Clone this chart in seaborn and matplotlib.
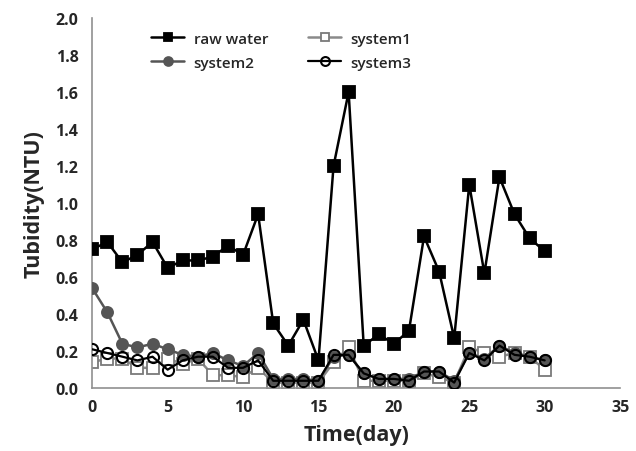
import matplotlib
matplotlib.use("Agg")
import matplotlib.pyplot as plt
import seaborn as sns
import pandas as pd

days = list(range(31))
raw_water = [0.75, 0.79, 0.68, 0.72, 0.79, 0.65, 0.69, 0.69, 0.71, 0.77, 0.72, 0.94, 0.35, 0.23, 0.37, 0.15,
             1.20, 1.60, 0.23, 0.29, 0.24, 0.31, 0.82, 0.63, 0.27, 1.10, 0.62, 1.14, 0.94, 0.81, 0.74]
system1 = [0.14, 0.16, 0.16, 0.11, 0.11, 0.16, 0.13, 0.16, 0.07, 0.07, 0.06, 0.11, 0.03, 0.03, 0.03, 0.03,
           0.14, 0.22, 0.04, 0.04, 0.04, 0.04, 0.08, 0.06, 0.03, 0.22, 0.19, 0.17, 0.19, 0.17, 0.10]
system2 = [0.54, 0.41, 0.24, 0.22, 0.24, 0.21, 0.18, 0.17, 0.19, 0.15, 0.12, 0.19, 0.05, 0.05, 0.05, 0.04,
           0.17, 0.18, 0.08, 0.05, 0.05, 0.05, 0.09, 0.09, 0.04, 0.19, 0.16, 0.23, 0.19, 0.17, 0.15]
system3 = [0.21, 0.19, 0.17, 0.15, 0.17, 0.10, 0.15, 0.17, 0.17, 0.11, 0.11, 0.15, 0.04, 0.04, 0.04, 0.04,
           0.18, 0.18, 0.08, 0.05, 0.05, 0.04, 0.09, 0.09, 0.03, 0.19, 0.15, 0.23, 0.18, 0.17, 0.15]
series_names = ["raw water", "system1", "system2", "system3"]
x_ticks = [0, 5, 10, 15, 20, 25, 30, 35]
y_ticks = [0.0, 0.2, 0.4, 0.6, 0.8, 1.0, 1.2, 1.4, 1.6, 1.8, 2.0]

sns.set_style("white")
plt.rcParams['font.family'] = ['Open Sans', 'DejaVu Sans']

fig = plt.figure(figsize=(6.36, 4.52), dpi=100)
ax = fig.add_axes([0.145, 0.139, 0.830, 0.819])

styles = {
    "raw water": dict(color="black", marker="s", mfc="black", mec="black", ms=8, lw=1.8, zorder=5),
    "system1": dict(color="#8a8a8a", marker="s", mfc="white", mec="#7a7a7a", ms=8, lw=1.8, zorder=2),
    "system2": dict(color="#555555", marker="o", mfc="#555555", mec="#555555", ms=8, lw=1.8, zorder=3),
    "system3": dict(color="black", marker="o", mfc="none", mec="black", ms=8, lw=1.6, mew=1.5, zorder=4),
}
data = {"raw water": raw_water, "system1": system1, "system2": system2, "system3": system3}

for name in series_names:
    df = pd.DataFrame({"day": days, "val": data[name]})
    st = styles[name]
    sns.lineplot(data=df, x="day", y="val", ax=ax, color=st["color"], marker=st["marker"],
                 markerfacecolor=st["mfc"], markeredgecolor=st["mec"], markersize=st["ms"],
                 markeredgewidth=st.get("mew", 1.3), linewidth=st["lw"], zorder=st["zorder"], label=name)

ax.set_xlim(0, 35)
ax.set_ylim(0, 2.0)
ax.set_xticks(x_ticks)
ax.set_yticks(y_ticks)
ax.set_xticklabels([str(t) for t in x_ticks])
ax.set_yticklabels([f"{t:.1f}" for t in y_ticks])
for lab in ax.get_xticklabels() + ax.get_yticklabels():
    lab.set_fontsize(11.5)
    lab.set_fontweight("bold")

ax.set_xlabel("Time(day)", fontsize=15.5, fontweight="bold", labelpad=6)
ax.set_ylabel("Tubidity(NTU)", fontsize=15.5, fontweight="bold", labelpad=8)

for s in ["top", "right"]:
    ax.spines[s].set_visible(False)
for s in ["left", "bottom"]:
    ax.spines[s].set_color("#909090")
    ax.spines[s].set_linewidth(1.2)
ax.tick_params(axis="both", direction="in", length=4, color="#909090", width=1)
ax.tick_params(axis="y", pad=10)
ax.tick_params(axis="x", pad=8)

handles, labels = ax.get_legend_handles_labels()
order = [labels.index(n) for n in ["raw water", "system2", "system1", "system3"]]
leg = ax.legend([handles[i] for i in order], [labels[i] for i in order], ncol=2, frameon=False,
                loc="upper left", bbox_to_anchor=(0.085, 1.0), handlelength=2.2,
                prop={"size": 11, "weight": "semibold"},
                columnspacing=2.6, labelspacing=0.65, handletextpad=0.6, markerscale=0.8)
fig.savefig("out.png", dpi=100)
